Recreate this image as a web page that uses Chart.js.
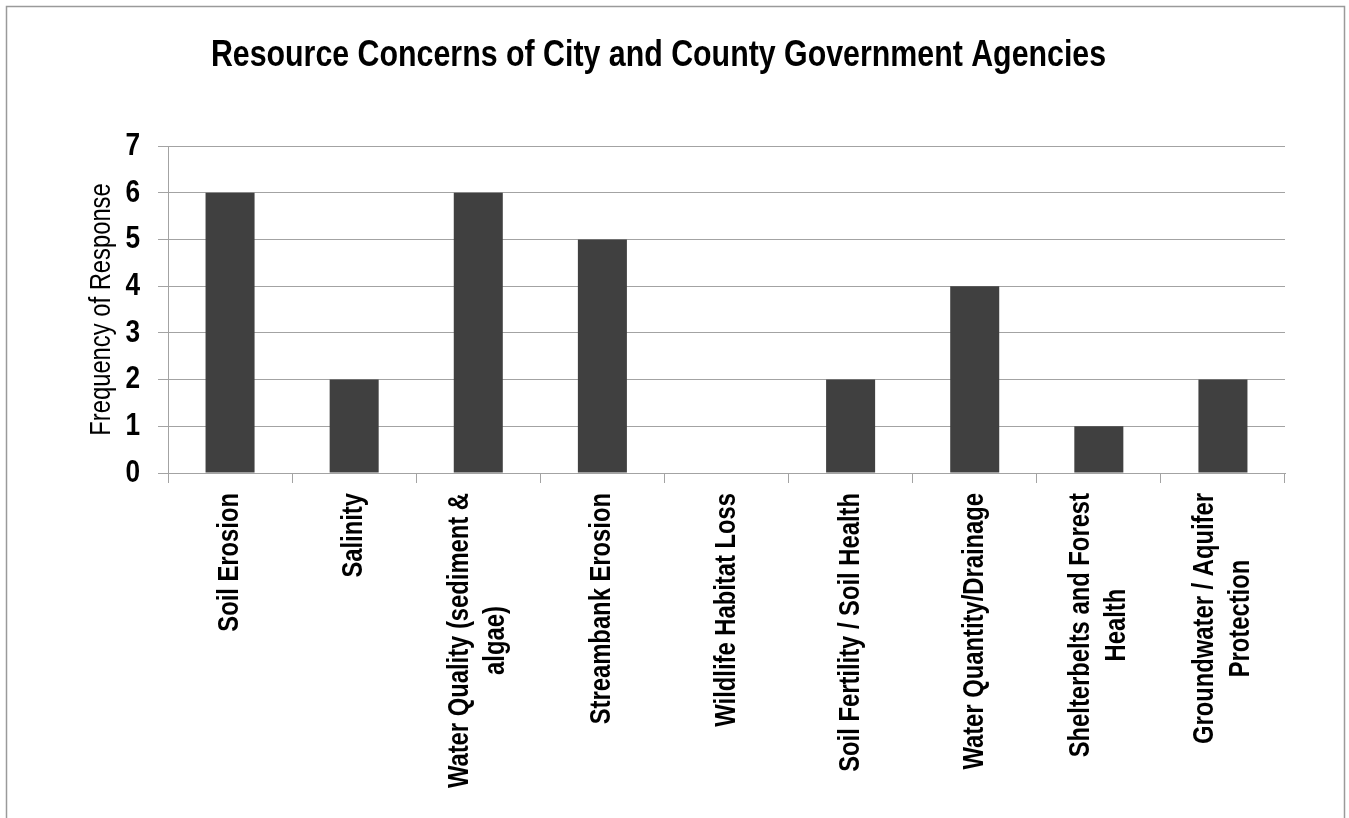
<!DOCTYPE html>
<html>
<head>
<meta charset="utf-8">
<script src="https://cdn.jsdelivr.net/npm/chart.js@4"></script>
<style>
  html, body { margin: 0; padding: 0; background: #fff; }
  #wrap { width: 1349px; height: 818px; position: relative; }
</style>
</head>
<body>
<div id="wrap"><canvas id="c" width="1349" height="818"></canvas></div>
<script>
const categories = [
  'Soil Erosion',
  'Salinity',
  ['Water Quality (sediment &', 'algae)'],
  'Streambank Erosion',
  'Wildlife Habitat Loss',
  'Soil Fertility / Soil Health',
  'Water Quantity/Drainage',
  ['Shelterbelts and Forest', 'Health'],
  ['Groundwater / Aquifer', 'Protection']
];
const responses = [6, 2, 6, 5, 0, 2, 4, 1, 2];
const yTicks = [0, 1, 2, 3, 4, 5, 6, 7];

const FONT = "'Liberation Sans', Arial, sans-serif";
const GRID = '#a3a3a3';
const NARROW = 0.82; // horizontal squeeze giving a narrow-face look

const canvas = document.getElementById('c');
const ctx2d = canvas.getContext('2d');

// Condensed text: every string is measured and painted at NARROW of its natural width.
(function condense(ctx) {
  const fill = ctx.fillText.bind(ctx);
  const measure = ctx.measureText.bind(ctx);
  ctx.measureText = function (text) {
    const m = measure(text);
    return {
      width: m.width * NARROW,
      actualBoundingBoxLeft: m.actualBoundingBoxLeft * NARROW,
      actualBoundingBoxRight: m.actualBoundingBoxRight * NARROW,
      actualBoundingBoxAscent: m.actualBoundingBoxAscent,
      actualBoundingBoxDescent: m.actualBoundingBoxDescent,
      fontBoundingBoxAscent: m.fontBoundingBoxAscent,
      fontBoundingBoxDescent: m.fontBoundingBoxDescent
    };
  };
  ctx.fillText = function (text, x, y, maxWidth) {
    const w = measure(text).width * NARROW;
    fill(text, x, y, maxWidth === undefined ? w : Math.min(w, maxWidth));
  };
})(ctx2d);

// thin grey frame round the whole chart
const framePlugin = {
  id: 'frame',
  beforeDraw(chart) {
    const ctx = chart.ctx;
    ctx.save();
    ctx.fillStyle = '#fff';
    ctx.fillRect(0, 0, chart.width, chart.height);
    ctx.strokeStyle = '#9a9a9a';
    ctx.lineWidth = 1.5;
    ctx.strokeRect(6.5, 6.5, 1338, 840);
    ctx.restore();
  }
};

// centre the lines of each rotated category label on one another and on its tick
const centerLabelLines = {
  id: 'centerLabelLines',
  beforeDraw(chart) {
    const scale = chart.scales.x;
    const items = scale.getLabelItems(chart.chartArea);
    const ctx = chart.ctx;
    items.forEach(item => {
      if (item._centered) return;
      const lines = Array.isArray(item.label) ? item.label : [item.label];
      ctx.save();
      ctx.font = item.font.string;
      const w = Math.max(...lines.map(l => ctx.measureText(l).width));
      ctx.restore();
      const lh = item.font.lineHeight;
      const [tx, ty] = item.options.translation;
      item.options.textAlign = 'center';
      item.options.translation = [tx - (lines.length - 1) * lh / 2, ty + w / 2];
      item._centered = true;
    });
  }
};

new Chart(ctx2d, {
  type: 'bar',
  data: {
    labels: categories,
    datasets: [{
      data: responses,
      backgroundColor: '#404040',
      borderWidth: 0,
      barPercentage: 0.395,
      categoryPercentage: 1.0
    }]
  },
  options: {
    responsive: false,
    animation: false,
    devicePixelRatio: 1,
    layout: { padding: { left: 32, right: 64, top: 0, bottom: 0 } },
    plugins: {
      legend: { display: false },
      tooltip: { enabled: false },
      title: {
        display: true,
        text: 'Resource Concerns of City and County Government Agencies',
        color: '#000',
        font: { family: FONT, size: 37, weight: 'bold', lineHeight: 1.2 },
        padding: { top: 33.6, bottom: 68 }
      }
    },
    scales: {
      x: {
        offset: true,
        grid: {
          display: true,
          offset: true,
          drawOnChartArea: false,
          drawTicks: true,
          tickLength: 10,
          color: GRID,
          lineWidth: 1
        },
        border: { display: true, color: GRID, width: 1 },
        ticks: {
          autoSkip: false,
          maxRotation: 90,
          minRotation: 90,
          padding: 10,
          color: '#000',
          font: { family: FONT, size: 29, weight: 'bold', lineHeight: 1.25 }
        },
        afterFit(scale) { scale.height = 345; }
      },
      y: {
        min: 0,
        max: 7,
        afterBuildTicks(scale) { scale.ticks = yTicks.map(v => ({ value: v })); },
        grid: {
          color: GRID,
          lineWidth: 1,
          drawTicks: true,
          tickLength: 10
        },
        border: { display: true, color: GRID, width: 1 },
        ticks: {
          padding: 18,
          color: '#000',
          font: { family: FONT, size: 32, weight: 'bold' }
        },
        title: {
          display: true,
          text: 'Frequency of Response',
          color: '#000',
          font: { family: FONT, size: 29, weight: 'normal', lineHeight: 1.2 },
          padding: { top: 52.6, bottom: 0 }
        },
        afterFit(scale) { scale.width = 136; }
      }
    }
  },
  plugins: [framePlugin, centerLabelLines]
});
</script>
</body>
</html>
